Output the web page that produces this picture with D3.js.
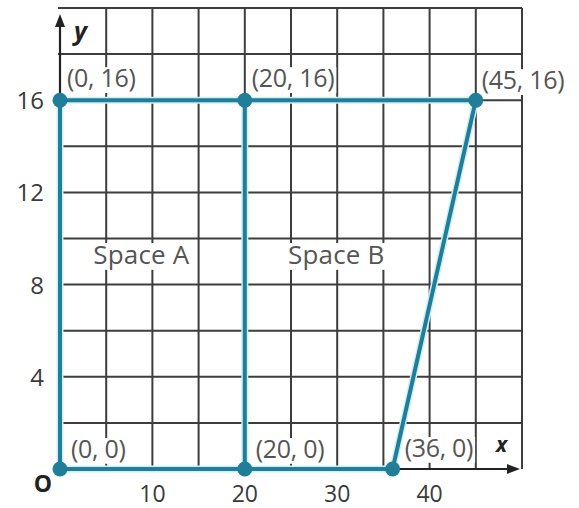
<!DOCTYPE html>
<html><head><meta charset="utf-8">
<script src="https://cdn.jsdelivr.net/npm/d3@7"></script>
<style>html,body{margin:0;padding:0;background:#fff;}svg{display:block;}</style>
</head><body>
<svg id="c" width="579" height="508"></svg>
<script>
// Data
const xTicks = [10, 20, 30, 40];
const yTicks = [4, 8, 12, 16];
const outline = [[0,0],[0,16],[45,16],[36,0],[0,0]];
const divider = [[20,0],[20,16]];
const points = [[0,16],[20,16],[45,16],[0,0],[20,0],[36,0]];
const pointLabels = ["(0, 16)","(20, 16)","(45, 16)","(0, 0)","(20, 0)","(36, 0)"];
const regionNames = ["Space A","Space B"];
const regionPos = [[8.8,8.9],[29.9,8.9]];

const svg = d3.select("#c");
const x = d3.scaleLinear().domain([0,50]).range([60,522]);
const y = d3.scaleLinear().domain([0,20]).range([469,8]);
const font = "'Open Sans', sans-serif";
const grid = "#3d3d3d";
const teal = "#217e99";

const gGrid = svg.append("g");
const gLab = svg.append("g");
const gTeal = svg.append("g");

// grid
gGrid.selectAll("line.v").data(d3.range(5,51,5)).enter().append("line")
  .attr("x1",d=>x(d)).attr("x2",d=>x(d)).attr("y1",y(0)).attr("y2",y(20))
  .attr("stroke",grid).attr("stroke-width",2);
gGrid.selectAll("line.h").data(d3.range(2,21,2)).enter().append("line")
  .attr("x1",x(0)-2).attr("x2",x(50)).attr("y1",d=>y(d)).attr("y2",d=>y(d))
  .attr("stroke",grid).attr("stroke-width",2);
// axes
gGrid.append("line").attr("x1",x(0)).attr("x2",x(50)-8).attr("y1",y(0)).attr("y2",y(0))
  .attr("stroke","#222").attr("stroke-width",2.2);
gGrid.append("line").attr("x1",x(0)).attr("x2",x(0)).attr("y1",y(0)).attr("y2",y(20)+10)
  .attr("stroke","#222").attr("stroke-width",2.2);
// arrowheads
gGrid.append("path").attr("d",`M${x(50)-2},${y(0)} l-13,-5 l0,10 z`).attr("fill","#222");
gGrid.append("path").attr("d",`M${x(0)},${y(20)+6} l-5,13 l10,0 z`).attr("fill","#222");

// knocked-out label helper (tight box around glyphs)
function knock(t, fs, px){
  const b = t.node().getBBox();
  const base = +t.attr("y");
  gLab.insert("rect", function(){ return t.node(); })
    .attr("x",b.x-px).attr("y",base-0.8*fs).attr("width",b.width+2*px).attr("height",fs*1.03)
    .attr("fill","#fff");
}

// axis labels
const yl = gLab.append("text").attr("x",x(0)+14).attr("y",y(20)+32).text("y")
  .attr("font-family",font).attr("font-style","italic").attr("font-weight","bold")
  .attr("font-size",25).attr("fill","#222");
knock(yl,25,2);
const xl = gLab.append("text").attr("x",496).attr("y",y(0)-17).text("x")
  .attr("font-family",font).attr("font-style","italic").attr("font-weight","bold")
  .attr("font-size",21).attr("fill","#222");
knock(xl,21,2);
gLab.append("text").attr("x",x(0)-17).attr("y",y(0)+23).attr("text-anchor","middle").text("O")
  .attr("font-family",font).attr("font-weight","bold").attr("font-size",23).attr("fill","#222");

// tick labels
gLab.selectAll("text.xt").data(xTicks).enter().append("text")
  .attr("x",d=>x(d)).attr("y",y(0)+33).attr("text-anchor","middle").text(d=>d)
  .attr("font-family",font).attr("font-size",23).attr("fill","#3a3a3a");
gLab.selectAll("text.yt").data(yTicks).enter().append("text")
  .attr("x",x(0)-16).attr("y",d=>y(d)+9).attr("text-anchor","end").text(d=>d)
  .attr("font-family",font).attr("font-size",24).attr("fill","#3a3a3a");

// point labels
const labelOff = [[7,-13],[7,-13],[6,-11],[11,-11],[11,-11],[12,-12]];
points.forEach((d,i)=>{
  const t = gLab.append("text")
    .attr("x",x(d[0])+labelOff[i][0]).attr("y",y(d[1])+labelOff[i][1])
    .text(pointLabels[i])
    .attr("font-family",font).attr("font-size",25).attr("fill","#555").attr("letter-spacing",-0.3);
  knock(t,25,2);
});

// region labels
regionNames.forEach((n,i)=>{
  const t = gLab.append("text")
    .attr("x",x(regionPos[i][0])).attr("y",y(regionPos[i][1]))
    .attr("text-anchor","middle").text(n)
    .attr("font-family",font).attr("font-size",26).attr("fill","#555").attr("letter-spacing",0.2);
  knock(t,26,2);
});

// teal shapes: halo then line
const line = d3.line().x(d=>x(d[0])).y(d=>y(d[1]));
[outline,divider].forEach(pts=>{
  gTeal.append("path").attr("d",line(pts)).attr("fill","none").attr("stroke","#cdeff7").attr("stroke-width",7).attr("stroke-linejoin","round");
});
[outline,divider].forEach(pts=>{
  gTeal.append("path").attr("d",line(pts)).attr("fill","none").attr("stroke",teal).attr("stroke-width",4).attr("stroke-linejoin","round");
});
gTeal.selectAll("circle").data(points).enter().append("circle")
  .attr("cx",d=>x(d[0])).attr("cy",d=>y(d[1])).attr("r",7.5).attr("fill",teal);
</script>
</body></html>
